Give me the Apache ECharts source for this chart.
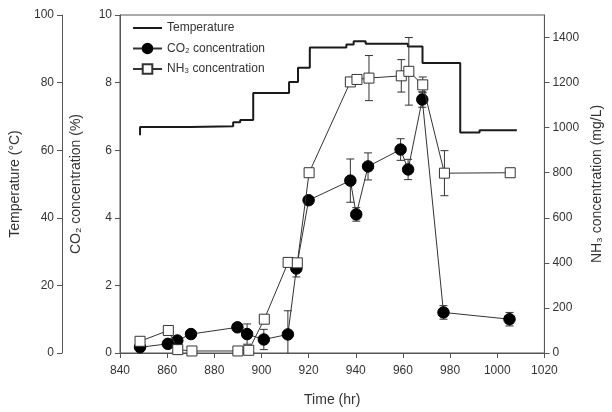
<!DOCTYPE html>
<html>
<head>
<meta charset="utf-8">
<script src="https://cdn.jsdelivr.net/npm/echarts@6/dist/echarts.min.js"></script>
<style>html,body{margin:0;padding:0;background:#fff}#c{width:612px;height:412px}</style>
</head>
<body>
<div id="c"></div>
<script>
// Temperature step profile: [time, temperature held from this time]
const tempSteps = [
  [848.5, 64.4], [848.5, 66.9], [870, 67.1], [888, 68.3], [891, 68.9],
  [896.5, 76.9], [911.7, 80.2], [915.5, 84.4], [920.5, 90.4], [936, 91.3],
  [939.1, 92.2], [944.2, 91.5], [962.1, 90.7], [968.3, 85.8], [984.3, 65.2],
  [992.5, 65.9], [1008.3, 65.9]
];
// CO2 concentration (%)
const co2Time  = [848.5, 860.3, 864.3, 870.1, 889.8, 893.9, 901, 911.2, 914.8, 920, 937.7, 940.2, 945.2, 959, 962.2, 968.2, 977.2, 1005.2];
const co2Value = [0.17, 0.27, 0.37, 0.56, 0.76, 0.56, 0.4, 0.55, 2.5, 4.52, 5.1, 4.1, 5.52, 6.02, 5.43, 7.5, 1.2, 1.0];
const co2Err   = [0, 0, 0, 0, 0, 0.3, 0.3, 0.7, 0.25, 0, 0.64, 0.2, 0.4, 0.32, 0.3, 0.23, 0.2, 0.2];
// NH3 concentration (mg/L)
const nh3Time  = [848.5, 860.5, 864.5, 870.5, 890, 894.6, 901.2, 911.3, 915.2, 920.2, 937.7, 940.5, 945.6, 959.3, 962.5, 968.4, 977.6, 1005.5];
const nh3Value = [52, 100, 15, 9, 9, 12, 150, 402, 400, 800, 1203, 1214, 1220, 1230, 1250, 1190, 798, 800];
const nh3Err   = [0, 0, 0, 0, 0, 0, 0, 0, 0, 0, 0, 0, 100, 72, 150, 35, 100, 0];

const FONT = '"Liberation Sans", Arial, sans-serif';
const AX = '#555';
const TXT = '#333';

const co2Pts = co2Time.map((t, i) => [t, co2Value[i]]);
const nh3Pts = nh3Time.map((t, i) => [t, nh3Value[i]]);
const co2Bars = co2Time.map((t, i) => [t, co2Value[i], co2Err[i]]).filter(d => d[2] > 0);
const nh3Bars = nh3Time.map((t, i) => [t, nh3Value[i], nh3Err[i]]).filter(d => d[2] > 0);

function errRender(params, api) {
  const x = api.value(0), v = api.value(1), e = api.value(2);
  const lo = Math.max(0, v - e), hi = v + e;
  const top = api.coord([x, hi]);
  const bot = api.coord([x, lo]);
  const cw = 4;
  const st = { stroke: '#333', lineWidth: 1 };
  const children = [
    { type: 'line', shape: { x1: top[0], y1: top[1], x2: bot[0], y2: bot[1] }, style: st },
    { type: 'line', shape: { x1: top[0] - cw, y1: top[1], x2: top[0] + cw, y2: top[1] }, style: st }
  ];
  if (v - e > 0) {
    children.push({ type: 'line', shape: { x1: bot[0] - cw, y1: bot[1], x2: bot[0] + cw, y2: bot[1] }, style: st });
  }
  return { type: 'group', children: children };
}

const plain = v => String(v);
const axisCommon = {
  axisLine: { show: true, lineStyle: { color: AX, width: 1 } },
  axisTick: { show: true, inside: false, length: 5, lineStyle: { color: AX } },
  axisLabel: { color: TXT, fontSize: 12, fontFamily: FONT, formatter: plain },
  splitLine: { show: false },
  nameTextStyle: { color: TXT, fontSize: 14, fontFamily: FONT }
};

const chart = echarts.init(document.getElementById('c'), null, { renderer: 'canvas' });
chart.setOption({
  animation: false,
  backgroundColor: '#fff',
  grid: { left: 120, right: 67, top: 15, bottom: 59, show: true, borderColor: AX, borderWidth: 1, backgroundColor: 'transparent' },
  legend: {
    orient: 'vertical', left: 127, top: 17, itemWidth: 29, itemHeight: 12, itemGap: 8.5,
    textStyle: { color: TXT, fontSize: 12, fontFamily: FONT },
    data: [
      { name: 'Temperature', itemStyle: { opacity: 0 } },
      'CO₂ concentration',
      'NH₃ concentration'
    ]
  },
  xAxis: Object.assign({}, axisCommon, {
    type: 'value', min: 840, max: 1020, interval: 20,
    name: 'Time (hr)', nameLocation: 'middle', nameGap: 40,
    axisLabel: Object.assign({}, axisCommon.axisLabel, { margin: 12 })
  }),
  yAxis: [
    Object.assign({}, axisCommon, {
      type: 'value', min: 0, max: 10, interval: 2, position: 'left', offset: 0,
      name: 'CO₂ concentration (%)', nameLocation: 'middle', nameGap: 37, nameRotate: 90,
      axisLabel: Object.assign({}, axisCommon.axisLabel, { margin: 8 })
    }),
    Object.assign({}, axisCommon, {
      type: 'value', min: 0, max: 100, interval: 20, position: 'left', offset: 58,
      name: 'Temperature (°C)', nameLocation: 'middle', nameGap: 40, nameRotate: 90,
      axisLabel: Object.assign({}, axisCommon.axisLabel, { margin: 8 })
    }),
    Object.assign({}, axisCommon, {
      type: 'value', min: 0, max: 1500, interval: 200, position: 'right', offset: 0,
      name: 'NH₃ concentration (mg/L)', nameLocation: 'middle', nameGap: 39, nameRotate: 90,
      axisLabel: Object.assign({}, axisCommon.axisLabel, { margin: 8, showMaxLabel: false })
    })
  ],
  series: [
    {
      name: 'Temperature', type: 'line', yAxisIndex: 1, step: 'end', data: tempSteps,
      symbol: 'none', lineStyle: { color: '#1a1a1a', width: 2 }, itemStyle: { color: '#1a1a1a' }, z: 2
    },
    {
      name: 'CO₂ err', type: 'custom', yAxisIndex: 0, data: co2Bars, renderItem: errRender, z: 3, silent: true
    },
    {
      name: 'NH₃ err', type: 'custom', yAxisIndex: 2, data: nh3Bars, renderItem: errRender, z: 3, silent: true
    },
    {
      name: 'CO₂ concentration', type: 'line', yAxisIndex: 0, data: co2Pts,
      symbol: 'circle', symbolSize: 11.5, showAllSymbol: true,
      lineStyle: { color: '#333', width: 1 },
      itemStyle: { color: '#000', borderColor: '#000', borderWidth: 1 }, z: 4
    },
    {
      name: 'NH₃ concentration', type: 'line', yAxisIndex: 2, data: nh3Pts,
      symbol: 'rect', symbolSize: 10, showAllSymbol: true,
      lineStyle: { color: '#333', width: 1 },
      itemStyle: { color: '#fff', borderColor: '#333', borderWidth: 1 }, z: 5
    }
  ]
});
</script>
</body>
</html>
